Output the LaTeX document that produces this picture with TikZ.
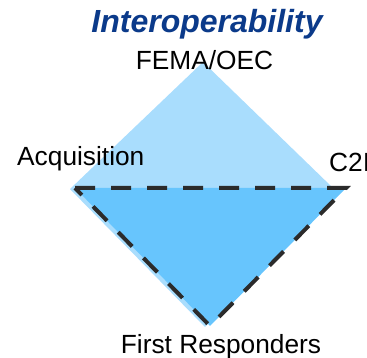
\documentclass[tikz,border=0pt]{standalone}
\usepackage{fontspec}
\setmainfont{Liberation Sans}
\definecolor{lightfill}{HTML}{A9DDFD}
\definecolor{darkfill}{HTML}{67C5FD}
\definecolor{titleblue}{HTML}{0B3A8A}
\definecolor{dashgray}{HTML}{2B2B2B}
\tikzset{
  lbl/.style={inner sep=0pt, font=\fontsize{26.3}{30}\selectfont, text=black},
  ttl/.style={inner sep=0pt, font=\fontsize{32}{36}\selectfont\bfseries\itshape, text=titleblue},
  dashtri/.style={draw=dashgray, line width=4pt, dash pattern=on 20pt off 16pt, line join=miter},
}
\begin{document}
\begin{tikzpicture}[x=1pt,y=-1pt]
\useasboundingbox (0,0) rectangle (367,358);
\clip (0,0) rectangle (367,358);
% light diamond
\fill[lightfill] (203,62) -- (333,188) -- (205,327) -- (70,189) -- cycle;
% dark triangle
\coordinate (tl) at (75,188);
\coordinate (tr) at (346,188);
\coordinate (tb) at (210,326);
\fill[darkfill] (tl) -- (tr) -- (tb) -- cycle;
\draw[dashtri] (tl) -- (tr) -- (tb) -- cycle;
% labels
\node[ttl, anchor=base] (title) at (207,33) {Interoperability};
\node[lbl, anchor=base] (fema) at (204.5,70) {FEMA/OEC};
\node[lbl, anchor=base west] (acq) at (17,166) {Acquisition};
\node[lbl, anchor=base west] (c2i) at (329,172) {C2I};
\node[lbl, anchor=base] (fr) at (221,353) {First Responders};
\end{tikzpicture}
\end{document}
